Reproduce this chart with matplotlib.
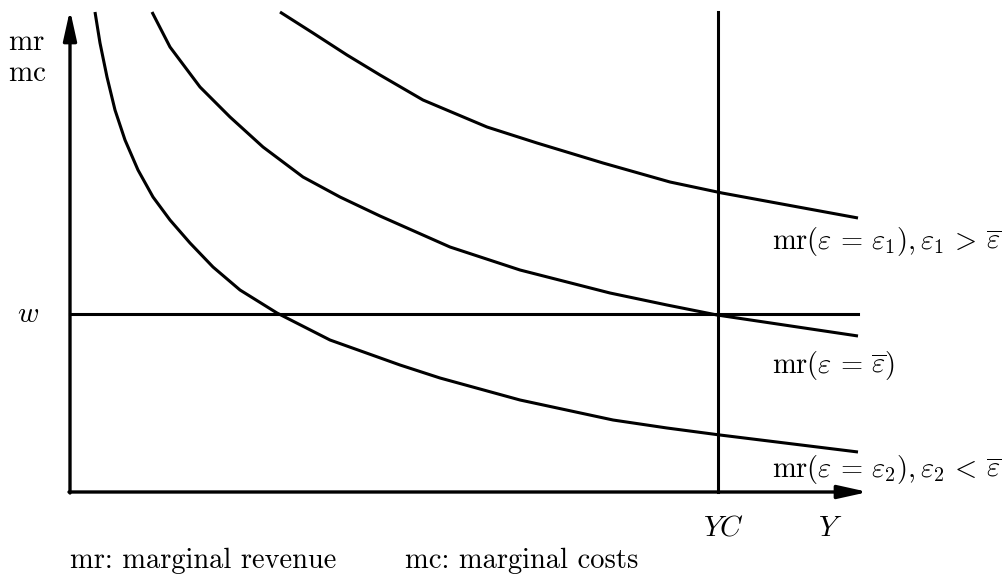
import matplotlib
matplotlib.use("Agg")
import matplotlib.pyplot as plt

# mr curves (x = output Y, y = mr/mc), arbitrary units
mr_low_x = [0.25, 0.30, 0.37, 0.45, 0.55, 0.68, 0.83, 1.00, 1.20, 1.43, 1.70, 2.07,
            2.60, 3.30, 3.70, 4.50, 5.43, 5.97, 6.50, 7.88]
mr_low_y = [4.80, 4.49, 4.15, 3.82, 3.52, 3.22, 2.95, 2.72, 2.49, 2.25, 2.02, 1.79,
            1.52, 1.27, 1.14, 0.92, 0.72, 0.64, 0.57, 0.40]

mr_mid_x = [0.82, 1.00, 1.30, 1.60, 1.93, 2.33, 2.70, 3.10, 3.80, 4.50, 5.40, 5.97,
            6.47, 7.88]
mr_mid_y = [4.80, 4.45, 4.05, 3.75, 3.45, 3.15, 2.95, 2.76, 2.45, 2.22, 1.99, 1.87,
            1.77, 1.56]

mr_high_x = [2.10, 2.43, 2.77, 3.10, 3.53, 4.17, 4.67, 5.33, 6.00, 6.52, 7.88]
mr_high_y = [4.80, 4.59, 4.37, 4.17, 3.92, 3.65, 3.49, 3.29, 3.10, 2.99, 2.74]

w_level = 1.78       # wage line
yc_level = 6.48      # capacity output YC
x_end = 7.88
y_top = 4.82

plt.rcParams['mathtext.fontset'] = 'cm'

fig = plt.figure(figsize=(10.07, 5.83), dpi=100)
ax = fig.add_axes([0, 0, 1, 1])
ax.set_xlim(-0.70, 9.37)
ax.set_ylim(-0.91, 4.92)
ax.axis('off')

lw = 2.2
for xs, ys in [(mr_low_x, mr_low_y), (mr_mid_x, mr_mid_y), (mr_high_x, mr_high_y)]:
    ax.plot(xs, ys, color='black', lw=lw, solid_capstyle='butt', solid_joinstyle='round')

ax.plot([0, x_end], [w_level, w_level], color='black', lw=lw)
ax.plot([yc_level, yc_level], [0, 4.80], color='black', lw=lw)

# axes with arrows
arrow = dict(arrowstyle='-|>,head_length=0.9,head_width=0.2', lw=2.4, color='black',
             shrinkA=0, shrinkB=0, mutation_scale=20)
ax.annotate('', xy=(0, y_top), xytext=(0, -0.01), arrowprops=arrow)
ax.annotate('', xy=(7.98, 0), xytext=(-0.01, 0), arrowprops=arrow)

fs = 21
ax.text(-0.62, 4.50, r'$\mathrm{mr}$', fontsize=fs, ha='left', va='center')
ax.text(-0.62, 4.19, r'$\mathrm{mc}$', fontsize=fs, ha='left', va='center')
ax.text(-0.42, w_level, r'$w$', fontsize=fs, ha='center', va='center')

lab_fs = 20.5
ax.text(7.02, 2.50,
        r'$\mathrm{mr}(\varepsilon\,=\,\varepsilon_1), \varepsilon_1\,>\,\overline{\varepsilon}$',
        fontsize=lab_fs, ha='left', va='center')
ax.text(7.02, 1.27, r'$\mathrm{mr}(\varepsilon\,=\,\overline{\varepsilon})$',
        fontsize=lab_fs, ha='left', va='center')
ax.text(7.02, 0.22,
        r'$\mathrm{mr}(\varepsilon\,=\,\varepsilon_2), \varepsilon_2\,<\,\overline{\varepsilon}$',
        fontsize=lab_fs, ha='left', va='center')

ax.text(6.54, -0.36, r'$YC$', fontsize=fs, ha='center', va='center')
ax.text(7.60, -0.36, r'$Y$', fontsize=fs, ha='center', va='center')

ax.text(0.0, -0.69, 'mr: marginal revenue', fontsize=20.5, family='cmr10',
        ha='left', va='center')
ax.text(3.35, -0.69, 'mc: marginal costs', fontsize=20.5, family='cmr10',
        ha='left', va='center')

fig.savefig('out.png', dpi=100, facecolor='white')
